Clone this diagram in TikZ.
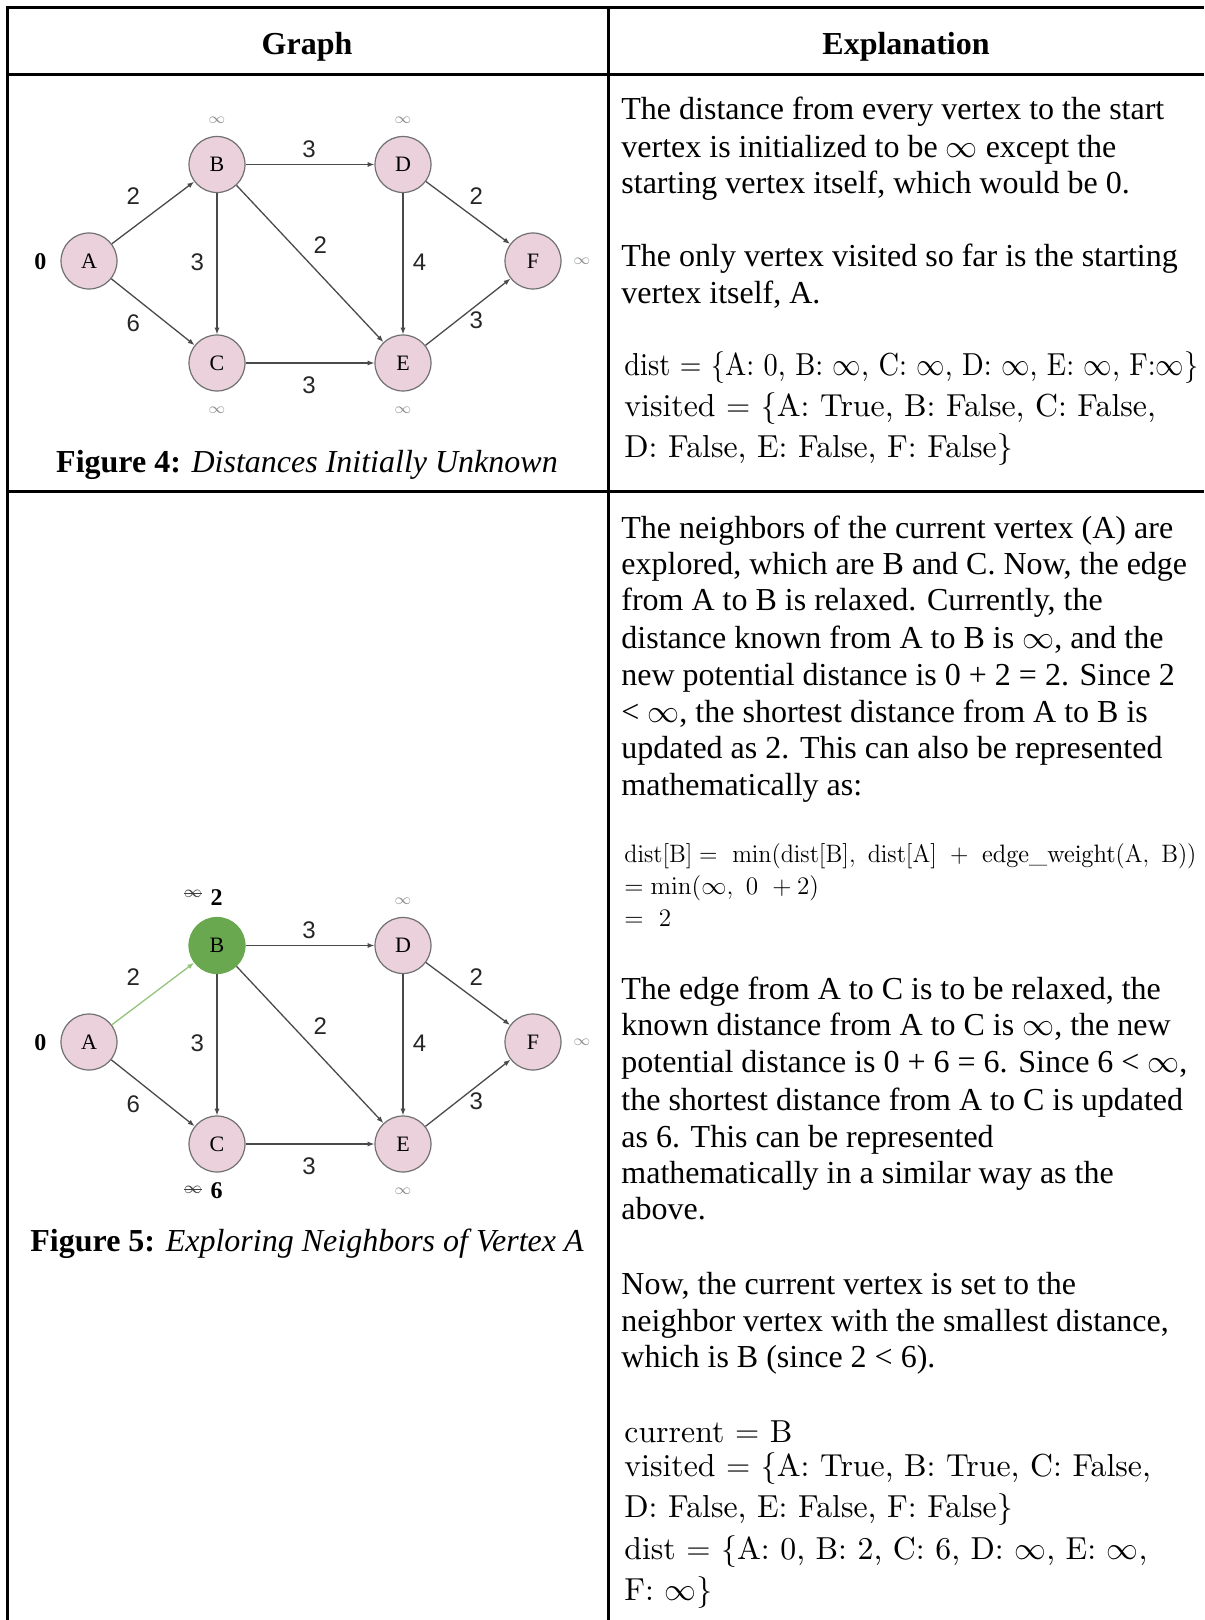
\RequirePackage{fix-cm}
\documentclass[tikz,border=0pt]{standalone}
\usepackage{graphicx}
\usepackage[no-math]{fontspec}
\newfontfamily\tnr{Liberation Serif}
\newfontfamily\arialish{Liberation Sans}
\newfontfamily\lmten{lmroman10-regular.otf}
\usetikzlibrary{arrows.meta}
\definecolor{vpink}{HTML}{EAD1DC}
\definecolor{vgreen}{HTML}{6AA84F}
\definecolor{egreen}{HTML}{93C47D}
\definecolor{vedge}{HTML}{4A4A4A}
\definecolor{vrim}{HTML}{707070}
\definecolor{infgray}{HTML}{8C8C8C}

\begin{document}
\begin{tikzpicture}[x=0.5pt,y=-0.5pt,
  tablerule/.style={line width=1.5pt, black},
  vtx/.style={circle, draw=vrim, line width=0.6pt, fill=vpink, minimum size=28pt,
    inner sep=0pt, font=\tnr\fontsize{11}{11}\selectfont},
  curvtx/.style={vtx, fill=vgreen, draw=vgreen},
  link/.style={-{Latex[length=3.4pt,width=2.6pt]}, draw=vedge, line width=0.65pt},
  greenlink/.style={link, draw=egreen},
  wt/.style={font=\arialish\fontsize{12}{12}\selectfont, text=black!85, inner sep=0pt},
  infl/.style={font=\fontsize{7.5}{7.5}\selectfont, text=infgray, inner sep=0pt},
  oldinf/.style={font=\fontsize{8.5}{8.5}\selectfont, text=black!75, inner sep=0pt},
  newd/.style={font=\tnr\bfseries\fontsize{12}{12}\selectfont, inner sep=0pt},
  startd/.style={font=\tnr\bfseries\fontsize{12}{12}\selectfont, inner sep=0pt},
  prose/.style={anchor=base west, inner sep=0pt, font=\tnr\fontsize{16}{18}\selectfont},
  lmline/.style={anchor=base west, inner sep=0pt, font=\lmten\fontsize{15.9}{18}\selectfont},
  mathline/.style={anchor=base west, inner sep=0pt, font=\lmten\fontsize{12.6}{15}\selectfont},
  colhead/.style={anchor=base, inner sep=0pt, font=\tnr\bfseries\fontsize{16}{18}\selectfont},
  figcap/.style={anchor=base, inner sep=0pt, font=\tnr\fontsize{16}{18}\selectfont},
]
\useasboundingbox (0,0) rectangle (1204,1620);

% table rules
\draw[tablerule] (1204,8) -- (7.5,8) -- (7.5,1620);
\draw[tablerule] (7.5,75) -- (1204,75);
\draw[tablerule] (7.5,491.5) -- (1204,491.5);
\draw[tablerule] (608.5,8) -- (608.5,1620);

% column headings
\node[colhead] (hg) at (307,54.5) {Graph};
\node[colhead] (he) at (906,54.5) {Explanation};

% ---------- first graph ----------
\node[vtx] (a1) at (89,261) {A};
\node[vtx] (b1) at (217,164.5) {B};
\node[vtx] (c1) at (217,363) {C};
\node[vtx] (d1) at (403,164.5) {D};
\node[vtx] (e1) at (403,363) {E};
\node[vtx] (f1) at (533,261) {F};

\draw[link] (a1) -- (b1);
\draw[link] (a1) -- (c1);
\draw[link] (b1) -- (d1);
\draw[link] (b1) -- (c1);
\draw[link] (b1) -- (e1);
\draw[link] (c1) -- (e1);
\draw[link] (d1) -- (e1);
\draw[link] (d1) -- (f1);
\draw[link] (e1) -- (f1);

\node[wt] (w1ab) at (133.3,196.4) {2};
\node[wt] (w1ac) at (133.3,323.5) {6};
\node[wt] (w1bd) at (309,148.8) {3};
\node[wt] (w1bc) at (197.4,262.5) {3};
\node[wt] (w1be) at (320.4,245) {2};
\node[wt] (w1de) at (419.6,262.5) {4};
\node[wt] (w1df) at (476.4,196.4) {2};
\node[wt] (w1ef) at (476.4,320.4) {3};
\node[wt] (w1ce) at (309,385.5) {3};

\node[startd] (z1) at (40.3,262) {0};
\node[infl] (i1b) at (217,120) {$\infty$};
\node[infl] (i1d) at (403,120) {$\infty$};
\node[infl] (i1c) at (217,410) {$\infty$};
\node[infl] (i1e) at (403,410) {$\infty$};
\node[infl] (i1f) at (582,261.5) {$\infty$};

\node[figcap] (cap4) at (307,472.5) {{\bfseries Figure 4:} {\itshape Distances Initially Unknown}};

% ---------- second graph ----------
\node[vtx] (a2) at (89,1042) {A};
\node[curvtx] (b2) at (217,945.5) {B};
\node[vtx] (c2) at (217,1144) {C};
\node[vtx] (d2) at (403,945.5) {D};
\node[vtx] (e2) at (403,1144) {E};
\node[vtx] (f2) at (533,1042) {F};

\draw[greenlink] (a2) -- (b2);
\draw[link] (a2) -- (c2);
\draw[link] (b2) -- (d2);
\draw[link] (b2) -- (c2);
\draw[link] (b2) -- (e2);
\draw[link] (c2) -- (e2);
\draw[link] (d2) -- (e2);
\draw[link] (d2) -- (f2);
\draw[link] (e2) -- (f2);

\node[wt] (w2ab) at (133.3,977.4) {2};
\node[wt] (w2ac) at (133.3,1104.5) {6};
\node[wt] (w2bd) at (309,929.8) {3};
\node[wt] (w2bc) at (197.4,1043.5) {3};
\node[wt] (w2be) at (320.4,1026) {2};
\node[wt] (w2de) at (419.6,1043.5) {4};
\node[wt] (w2df) at (476.4,977.4) {2};
\node[wt] (w2ef) at (476.4,1101.4) {3};
\node[wt] (w2ce) at (309,1166.5) {3};

\node[startd] (z2) at (40.3,1043) {0};
\node[oldinf] (o2b) at (193,893.5) {$\infty$};
\draw[black!75, line width=0.6pt] (o2b.west) -- (o2b.east);
\node[newd] (n2b) at (216.7,898) {2};
\node[infl] (i2d) at (403,901) {$\infty$};
\node[oldinf] (o2c) at (193,1189.5) {$\infty$};
\draw[black!75, line width=0.6pt] (o2c.west) -- (o2c.east);
\node[newd] (n2c) at (216.7,1190.5) {6};
\node[infl] (i2e) at (403,1191) {$\infty$};
\node[infl] (i2f) at (582,1042.5) {$\infty$};

\node[figcap] (cap5) at (307,1251.5) {{\bfseries Figure 5:} {\itshape Exploring Neighbors of Vertex A}};

% ---------- first explanation ----------
\node[prose] (p1) at (621,120) {The distance from every vertex to the start};
\node[prose] (p2) at (621,157.2) {vertex is initialized to be $\infty$ except the};
\node[prose] (p3) at (621,193.3) {starting vertex itself, which would be 0.};
\node[prose] (p4) at (621,266.7) {The only vertex visited so far is the starting};
\node[prose] (p5) at (621,303.9) {vertex itself, A.};
\node[lmline] (s1) at (624,376) {\resizebox{287pt}{\height}{dist $=$ \{A: 0, B: $\infty$, C: $\infty$, D: $\infty$, E: $\infty$, F:$\infty$\}}};
\node[lmline] (s2) at (624,416) {visited $=$ \{A: True, B: False, C: False,};
\node[lmline] (s3) at (624,457.5) {D: False, E: False, F: False\}};

% ---------- second explanation ----------
\node[prose] (q1) at (621,538.5) {The neighbors of the current vertex (A) are};
\node[prose] (q2) at (621,574.7) {explored, which are B and C. Now, the edge};
\node[prose] (q3) at (621,610.9) {from A to B is relaxed. Currently, the};
\node[prose] (q4) at (621,648.1) {distance known from A to B is $\infty$, and the};
\node[prose] (q5) at (621,685.3) {new potential distance is 0 + 2 = 2. Since 2};
\node[prose] (q6) at (621,722.5) {< $\infty$, the shortest distance from A to B is};
\node[prose] (q7) at (621,758.7) {updated as 2. This can also be represented};
\node[prose] (q8) at (621,795.9) {mathematically as:};

\node[mathline] (m1) at (624,862) {\resizebox{286pt}{\height}{$\mathrm{dist}[\mathrm{B}] =\ \min(\mathrm{dist}[\mathrm{B}],\ \mathrm{dist}[\mathrm{A}]\ +\ \mbox{edge\_weight}(\mathrm{A},\ \mathrm{B}))$}};
\node[mathline] (m2) at (624,894) {$= \min(\infty,\ 0\ + 2)$};
\node[mathline] (m3) at (624,926) {$=\ 2$};

\node[prose] (q9) at (621,999.5) {The edge from A to C is to be relaxed, the};
\node[prose] (q10) at (621,1035.6) {known distance from A to C is $\infty$, the new};
\node[prose] (q11) at (621,1072.8) {potential distance is 0 + 6 = 6. Since 6 < $\infty$,};
\node[prose] (q12) at (621,1110) {the shortest distance from A to C is updated};
\node[prose] (q13) at (621,1147.3) {as 6. This can be represented};
\node[prose] (q14) at (621,1183.4) {mathematically in a similar way as the};
\node[prose] (q15) at (621,1219.6) {above.};

\node[prose] (q16) at (621,1294) {Now, the current vertex is set to the};
\node[prose] (q17) at (621,1331.2) {neighbor vertex with the smallest distance,};
\node[prose] (q18) at (621,1367.4) {which is B (since 2 < 6).};

\node[lmline] (t1) at (624,1442.4) {current $=$ B};
\node[lmline] (t2) at (624,1476.5) {visited $=$ \{A: True, B: True, C: False,};
\node[lmline] (t3) at (624,1517.8) {D: False, E: False, F: False\}};
\node[lmline] (t4) at (624,1559.2) {dist $=$ \{A: 0, B: 2, C: 6, D: $\infty$, E: $\infty$,};
\node[lmline] (t5) at (624,1600.5) {F: $\infty$\}};
\end{tikzpicture}
\end{document}
